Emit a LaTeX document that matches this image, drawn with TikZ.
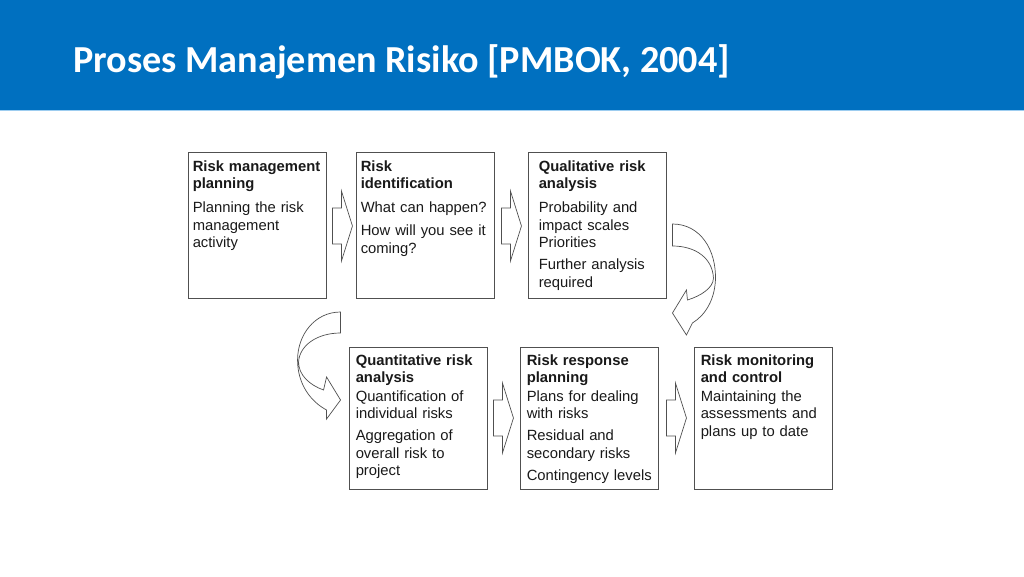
\documentclass[tikz,border=0pt]{standalone}
\usepackage{fontspec}
\setmainfont{Liberation Sans}
\newfontfamily\titlefont{Carlito}
\usetikzlibrary{calc}

\definecolor{bandblue}{RGB}{0,112,192}
\definecolor{bandline}{RGB}{157,205,240}
\definecolor{boxline}{RGB}{80,80,80}

\tikzset{
  stage/.style={draw=boxline, line width=0.9pt, minimum width=138pt,
    minimum height=146pt, inner sep=0pt},
  stagetext/.style={anchor=north west, align=left, inner sep=0pt,
    text width=134pt, font=\fontsize{14.8}{17.5}\selectfont, text=black!90},
  flow/.style={draw=boxline, line width=0.7pt, fill=white},
  pushright/.pic={
    \draw[flow] (0,-18) -- (9,-18) -- (9,-35) -- (20,0) -- (9,35) -- (9,18) -- (0,18) -- cycle;
  },
}

\begin{document}
\begin{tikzpicture}[x=1pt,y=-1pt]
  \useasboundingbox (0,0) rectangle (1024,576);
  % header band
  \fill[bandblue] (0,0) rectangle (1024,110);
  \draw[bandline, line width=1.2pt] (0,110.6) -- (1024,110.6);
  \node[anchor=base west, text=white, inner sep=0pt,
    font=\titlefont\bfseries\fontsize{38.2}{46}\selectfont] (title) at (73,72)
    {Proses Manajemen Risiko [PMBOK, 2004]};

  % top row
  \node[stage] (plan)  at (257,225) {};
  \node[stage] (ident) at (425,225) {};
  \node[stage] (qual)  at (597,225) {};
  % bottom row
  \node[stage, minimum height=142pt] (quant) at (418,418) {};
  \node[stage, minimum height=142pt] (resp)  at (589,418) {};
  \node[stage, minimum height=142pt] (monit) at (763,418) {};

  \node[stagetext] (plan-t) at ($(plan.north west)+(5,9)$)
    {\textbf{Risk management}\\\textbf{planning}\\[6.5pt]
     Planning the risk\\management\\activity};
  \node[stagetext] (ident-t) at ($(ident.north west)+(5,9)$)
    {\textbf{Risk}\\\textbf{identification}\\[6.5pt]
     What can happen?\\[5.5pt]
     How will you see it\\coming?};
  \node[stagetext] (qual-t) at ($(qual.north west)+(11,9)$)
    {\textbf{Qualitative risk}\\\textbf{analysis}\\[6.5pt]
     Probability and\\impact scales\\Priorities\\[4.5pt]
     Further analysis\\required};
  \node[stagetext] (quant-t) at ($(quant.north west)+(7,8)$)
    {\textbf{Quantitative risk}\\\textbf{analysis}\\[1pt]
     Quantification of\\individual risks\\[4.5pt]
     Aggregation of\\overall risk to\\project};
  \node[stagetext] (resp-t) at ($(resp.north west)+(7,8)$)
    {\textbf{Risk response}\\\textbf{planning}\\[1pt]
     Plans for dealing\\with risks\\[4.5pt]
     Residual and\\secondary risks\\[4.5pt]
     Contingency levels};
  \node[stagetext] (monit-t) at ($(monit.north west)+(7,8)$)
    {\textbf{Risk monitoring}\\\textbf{and control}\\[1pt]
     Maintaining the\\assessments and\\plans up to date};

  % straight block arrows
  \pic at ($(plan.east)+(6,1)$) {pushright};
  \pic at ($(ident.east)+(7,1)$) {pushright};
  \pic at ($(quant.east)+(6,0)$) {pushright};
  \pic at ($(resp.east)+(8,0)$) {pushright};

  % curved arrow down the right side
  \begin{scope}[shift={(qual.east)}]
    \draw[flow] (6,-1) .. controls (34,-1) and (50,25) .. (49,55)
      .. controls (48,75) and (39,90) .. (26,98)
      -- (20,110) -- (6,88) -- (20,65) -- (21,75)
      .. controls (34,71) and (47,63) .. (47,53)
      .. controls (46,33) and (29,21) .. (6,21) -- cycle;
  \end{scope}
  % curved arrow back to the left
  \begin{scope}[shift={(quant.west)}]
    \draw[flow] (-8,-106) .. controls (-34,-106) and (-51,-83) .. (-51,-58)
      .. controls (-51,-33) and (-37,-16) .. (-22,-8)
      -- (-22,1) -- (-8,-18) -- (-22,-41) -- (-25,-28)
      .. controls (-39,-33) and (-50,-43) .. (-50,-56)
      .. controls (-49,-73) and (-31,-85) .. (-8,-85) -- cycle;
  \end{scope}
\end{tikzpicture}
\end{document}
